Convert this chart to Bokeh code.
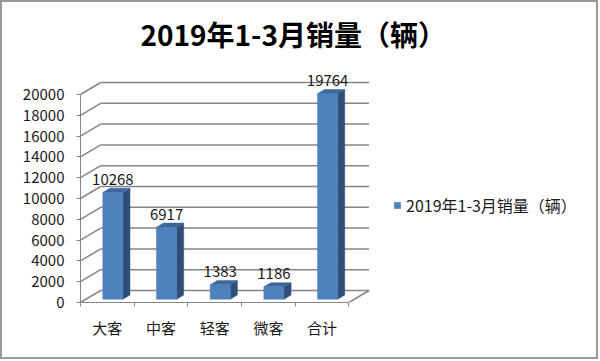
import numpy as np
from bokeh.plotting import figure
from bokeh.models import FixedTicker, Range1d, Legend, LegendItem
from bokeh.embed import file_html
from bokeh.resources import INLINE
from bokeh.core.properties import value

# ---- data ----
categories = ["大客", "中客", "轻客", "微客", "合计"]
sales = [10268, 6917, 1383, 1186, 19764]
y_ticks = [0, 2000, 4000, 6000, 8000, 10000, 12000, 14000, 16000, 18000, 20000]
series_name = "2019年1-3月销量（辆）"
title_text = "2019年1-3月销量（辆）"

# ---- pseudo-3D geometry (data units) ----
DEPTH_X = 0.375      # back wall shift in category units
DEPTH_Y = 1154       # back wall shift in value units
BAR_W = 0.375
BAR_D0 = 0.275
BAR_D1 = 0.625

CJK = "Noto Sans CJK SC"
GRID = "#868686"
TXT = "#1a1a1a"

n = len(categories)
idx = np.arange(n)
vals = np.array(sales, dtype=float)
fx0 = idx + 0.5 - BAR_W / 2 + BAR_D0 * DEPTH_X
fx1 = fx0 + BAR_W
fy0 = BAR_D0 * DEPTH_Y
fy1 = vals + fy0
bx = (BAR_D1 - BAR_D0) * DEPTH_X
by = (BAR_D1 - BAR_D0) * DEPTH_Y

front_xs = [[a, b, b, a] for a, b in zip(fx0, fx1)]
front_ys = [[fy0, fy0, t, t] for t in fy1]
side_xs = [[b, b + bx, b + bx, b] for b in fx1]
side_ys = [[fy0, fy0 + by, t + by, t] for t in fy1]
top_xs = [[a, b, b + bx, a + bx] for a, b in zip(fx0, fx1)]
top_ys = [[t, t, t + by, t + by] for t in fy1]

p = figure(width=598, height=359,
           x_range=Range1d(0, 9.444), y_range=Range1d(0, 22885),
           output_backend="svg", toolbar_location=None,
           min_border_left=78, min_border_right=13,
           min_border_top=58, min_border_bottom=59)
p.styles = {"border": "2px solid #999999"}
p.background_fill_color = "white"
p.border_fill_color = "white"
p.outline_line_color = None
p.xgrid.visible = False
p.ygrid.visible = False

# back wall / side wall gridlines
yt = np.array(y_ticks, dtype=float)
p.segment(x0=[0] * len(yt), y0=yt, x1=[DEPTH_X] * len(yt), y1=yt + DEPTH_Y,
          line_color=GRID, line_width=1.5)
p.segment(x0=[DEPTH_X] * len(yt), y0=yt + DEPTH_Y, x1=[n + DEPTH_X] * len(yt),
          y1=yt + DEPTH_Y, line_color=GRID, line_width=1.5)
p.segment(x0=[n], y0=[0], x1=[n + DEPTH_X], y1=[DEPTH_Y],
          line_color=GRID, line_width=1.5)

# bars
p.patches(side_xs, side_ys, fill_color="#2f4f7a", line_color="#2f4f7a", line_width=0.5)
p.patches(top_xs, top_ys, fill_color="#3d679b", line_color="#3d679b", line_width=0.5)
front_r = p.patches(front_xs, front_ys, fill_color="#4f81bd", line_color="#4a7ab5",
                    line_width=0.5)

# data labels
p.text(x=(fx0 + fx1) / 2, y=fy1 + by, text=[str(v) for v in sales],
       text_align="center", text_baseline="alphabetic", y_offset=-9,
       text_font=value(CJK), text_font_size="15px", text_color=TXT)

# y axis
ya = p.yaxis[0]
ya.ticker = FixedTicker(ticks=y_ticks)
ya.bounds = (0, 20000)
ya.major_tick_out = 4
ya.major_tick_in = 0
ya.minor_tick_out = 0
ya.minor_tick_in = 0
ya.axis_line_color = GRID
ya.major_tick_line_color = GRID
ya.major_label_text_font = CJK
ya.major_label_text_font_size = "15px"
ya.major_label_text_color = TXT
ya.major_label_standoff = 12

# x axis
xa = p.xaxis[0]
xa.ticker = FixedTicker(ticks=[i + 0.5 for i in range(n)], minor_ticks=list(range(n + 1)))
xa.major_label_overrides = {i + 0.5: c for i, c in enumerate(categories)}
xa.bounds = (0, n)
xa.major_tick_out = 0
xa.major_tick_in = 0
xa.minor_tick_out = 4
xa.minor_tick_in = 0
xa.axis_line_color = GRID
xa.minor_tick_line_color = GRID
xa.major_label_text_font = CJK
xa.major_label_text_font_size = "15px"
xa.major_label_text_color = TXT
xa.major_label_standoff = 10

# legend
legend = Legend(items=[LegendItem(label=series_name, renderers=[front_r])],
                location=(313, 85), padding=0, margin=0,
                border_line_color=None, background_fill_alpha=0,
                glyph_width=8, glyph_height=8, label_standoff=5,
                label_height=8, spacing=0,
                label_text_font=CJK, label_text_font_size="16px",
                label_text_color=TXT)
p.add_layout(legend)

# title
p.title.text = title_text
p.title.text_font = CJK
p.title.text_font_size = "28px"
p.title.text_font_style = "bold"
p.title.text_color = "black"
p.title.align = "left"
p.title.offset = 60
p.title.standoff = 20
p.title.vertical_align = "middle"

open("out.html", "w").write(file_html(p, INLINE))
